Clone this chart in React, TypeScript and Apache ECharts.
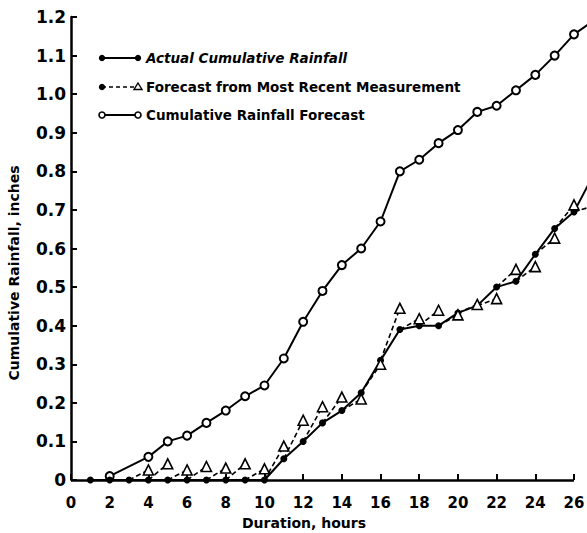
import React, { useEffect, useRef } from "react";
import * as echarts from "echarts";

// Hourly actual cumulative rainfall (inches)
const actualHours = [1, 2, 3, 4, 5, 6, 7, 8, 9, 10, 11, 12, 13, 14, 15, 16, 17, 18, 19, 20, 21, 22, 23, 24, 25, 26, 27];
const actualRain = [0, 0, 0, 0, 0, 0, 0, 0, 0, 0, 0.055, 0.1, 0.148, 0.18, 0.226, 0.31, 0.39, 0.4, 0.4, 0.433, 0.452, 0.5, 0.515, 0.585, 0.652, 0.695, 0.79];

// One-hour-ahead forecasts issued from the most recent measurement
const forecastHours = [4, 5, 6, 7, 8, 9, 10, 11, 12, 13, 14, 15, 16, 17, 18, 19, 20, 21, 22, 23, 24, 25, 26, 27];
const forecastRain = [0.026, 0.042, 0.026, 0.035, 0.031, 0.042, 0.029, 0.088, 0.155, 0.19, 0.215, 0.21, 0.3, 0.445, 0.418, 0.44, 0.428, 0.455, 0.47, 0.546, 0.553, 0.627, 0.713, 0.71];

// Cumulative rainfall forecast
const cumForecastHours = [2, 4, 5, 6, 7, 8, 9, 10, 11, 12, 13, 14, 15, 16, 17, 18, 19, 20, 21, 22, 23, 24, 25, 26, 27];
const cumForecastRain = [0.01, 0.06, 0.1, 0.115, 0.148, 0.18, 0.217, 0.245, 0.315, 0.41, 0.49, 0.557, 0.6, 0.67, 0.8, 0.83, 0.873, 0.907, 0.954, 0.97, 1.01, 1.05, 1.1, 1.155, 1.19];

const legendLabels = [
  "Actual Cumulative Rainfall",
  "Forecast from Most Recent Measurement",
  "Cumulative Rainfall Forecast",
];

const xTitle = "Duration, hours";
const yTitle = "Cumulative Rainfall, inches";

// drawn x-axis runs 0..26 h; the plotting scale continues one more hour,
// past the visible frame
const X_AXIS_END = 26;
const X_SCALE_END = 27;

const VIEW_W = 587;
const VIEW_H = 533;
const CANVAS_W = 600;

const FONT = "DejaVu Sans";
const INK = "#000";

function actualAt(h: number): number {
  const i = actualHours.indexOf(h);
  return i >= 0 ? actualRain[i] : 0;
}

export default function App() {
  const ref = useRef<HTMLDivElement>(null);

  useEffect(() => {
    document.body.style.margin = "0";
    if (!ref.current) return;
    const chart = echarts.init(ref.current, null, { renderer: "svg" });

    // dashed segments: from the measurement at h-1 to the forecast at h
    const forecastData: any[] = [];
    forecastHours.forEach((h, i) => {
      forecastData.push({ value: [h - 1, actualAt(h - 1)], symbol: "none" });
      forecastData.push({ value: [h, forecastRain[i]] });
      forecastData.push([h + 0.5, "-"]);
    });

    const legendRow = (y: number, kind: number, label: string) => {
      const kids: any[] = [];
      kids.push({
        type: "line",
        shape: { x1: 102, y1: y, x2: 138, y2: y },
        style: kind === 1
          ? { stroke: INK, lineWidth: 1.6, lineDash: [4, 3] }
          : { stroke: INK, lineWidth: 1.8 },
      });
      if (kind === 2) {
        kids.push({ type: "circle", shape: { cx: 102, cy: y, r: 3 }, style: { fill: "#fff", stroke: INK, lineWidth: 1.6 } });
        kids.push({ type: "circle", shape: { cx: 138, cy: y, r: 3 }, style: { fill: "#fff", stroke: INK, lineWidth: 1.6 } });
      } else {
        kids.push({ type: "circle", shape: { cx: 102, cy: y, r: 3.2 }, style: { fill: INK } });
        if (kind === 0) {
          kids.push({ type: "circle", shape: { cx: 138, cy: y, r: 3.2 }, style: { fill: INK } });
        } else {
          kids.push({
            type: "polygon",
            shape: { points: [[138, y - 4], [142, y + 2.5], [134, y + 2.5]] },
            style: { fill: "#fff", stroke: INK, lineWidth: 1.4 },
          });
        }
      }
      kids.push({
        type: "text",
        x: 146,
        y: y,
        style: {
          text: label,
          fontFamily: FONT,
          fontSize: 13.5,
          fontWeight: "bold",
          fontStyle: kind === 0 ? "italic" : "normal",
          fill: INK,
          textAlign: "left",
          textVerticalAlign: "middle",
          verticalAlign: "middle",
        },
      });
      return { type: "group", children: kids };
    };

    chart.setOption({
      animation: false,
      backgroundColor: "#fff",
      grid: { left: 71, top: 17, bottom: 53, right: CANVAS_W - 593.35 },
      xAxis: {
        type: "value",
        min: 0,
        max: X_SCALE_END,
        interval: 2,
        axisLine: { show: false },
        axisTick: { inside: true, length: 6, lineStyle: { color: INK, width: 2 } },
        splitLine: { show: false },
        axisLabel: {
          color: INK,
          fontFamily: FONT,
          fontWeight: "bold",
          fontSize: 15,
          margin: 15,
          showMaxLabel: false,
        },
      },
      yAxis: {
        type: "value",
        min: 0,
        max: 1.2,
        interval: 0.1,
        axisLine: { show: true, lineStyle: { color: INK, width: 2.5 } },
        axisTick: { show: true, inside: true, length: 6, lineStyle: { color: INK, width: 2 } },
        splitLine: { show: false },
        axisLabel: {
          color: INK,
          fontFamily: FONT,
          fontWeight: "bold",
          fontSize: 17,
          margin: 5,
          formatter: (v: number) => (v === 0 ? "0" : v.toFixed(1)),
        },
      },
      graphic: [
        legendRow(58, 0, legendLabels[0]),
        legendRow(87, 1, legendLabels[1]),
        legendRow(115, 2, legendLabels[2]),
        {
          type: "text",
          x: 304,
          y: 523,
          style: {
            text: xTitle,
            fontFamily: FONT,
            fontSize: 14,
            fontWeight: "bold",
            fill: INK,
            textAlign: "center",
            textVerticalAlign: "middle",
            verticalAlign: "middle",
          },
        },
        {
          type: "text",
          x: 14,
          y: 273,
          rotation: Math.PI / 2,
          style: {
            text: yTitle,
            fontFamily: FONT,
            fontSize: 14,
            fontWeight: "bold",
            fill: INK,
            textAlign: "center",
            textVerticalAlign: "middle",
            verticalAlign: "middle",
          },
        },
      ],
      series: [
        {
          name: legendLabels[2],
          type: "line",
          data: cumForecastHours.map((h, i) => [h, cumForecastRain[i]]),
          symbol: "circle",
          symbolSize: 8,
          lineStyle: { color: INK, width: 2 },
          itemStyle: { color: "#fff", borderColor: INK, borderWidth: 2 },
          z: 2,
        },
        {
          name: legendLabels[1],
          type: "line",
          connectNulls: false,
          data: forecastData,
          symbol: "triangle",
          symbolSize: 10,
          lineStyle: { color: INK, width: 1.6, type: [5, 3] },
          itemStyle: { color: "#fff", borderColor: INK, borderWidth: 1.6 },
          z: 4,
        },
        {
          name: legendLabels[0],
          type: "line",
          data: actualHours.map((h, i) => [h, actualRain[i]]),
          symbol: "circle",
          symbolSize: 7,
          lineStyle: { color: INK, width: 2 },
          itemStyle: { color: INK },
          z: 3,
          markLine: {
            silent: true,
            symbol: "none",
            label: { show: false },
            lineStyle: { color: INK, width: 2.5, type: "solid" },
            data: [[{ coord: [0, 0] }, { coord: [X_AXIS_END, 0] }]],
          },
        },
      ],
    });

    return () => chart.dispose();
  }, []);

  return (
    <div style={{ width: VIEW_W, height: VIEW_H, overflow: "hidden" }}>
      <div ref={ref} style={{ width: CANVAS_W, height: VIEW_H }} />
    </div>
  );
}
